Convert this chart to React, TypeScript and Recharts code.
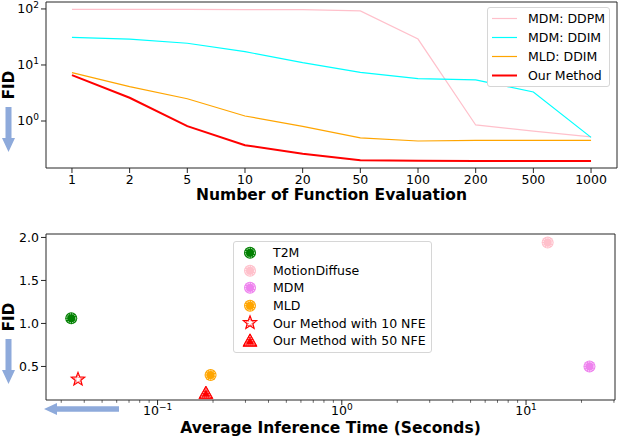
import React from "react";
import { LineChart, Line, ScatterChart, Scatter, XAxis, YAxis, Legend } from "recharts";

// top panel: FID vs number of function evaluations
const nfe = [1, 2, 5, 10, 20, 50, 100, 200, 500, 1000];
const mdmDdpm = [98, 98, 98, 97, 97, 92, 29, 0.85, 0.66, 0.52];
const mdmDdim = [31, 29, 24.4, 17.3, 11, 7.4, 5.7, 5.4, 3.3, 0.51];
const mldDdim = [7.3, 4.1, 2.5, 1.23, 0.8, 0.5, 0.44, 0.45, 0.45, 0.45];
const ourMethod = [6.6, 2.6, 0.81, 0.37, 0.26, 0.2, 0.195, 0.193, 0.193, 0.193];
const fidLogTicks = [1, 10, 100];

// bottom panel: FID vs average inference time
const methods = ["T2M", "MotionDiffuse", "MDM", "MLD", "Our Method with 10 NFE", "Our Method with 50 NFE"];
const inferTime = [0.034, 13.1, 22.1, 0.194, 0.037, 0.183];
const methodFid = [1.06, 1.94, 0.5, 0.4, 0.35, 0.19];
const fidTicks = [0.5, 1.0, 1.5, 2.0];
const timeMajor = [0.1, 1, 10];
const timeTicks = [
  0.03, 0.04, 0.05, 0.06, 0.07, 0.08, 0.09, 0.1, 0.2, 0.3, 0.4, 0.5, 0.6, 0.7, 0.8, 0.9,
  1, 2, 3, 4, 5, 6, 7, 8, 9, 10, 20, 30,
];

// axis ranges
const idxDomain = [-0.45, nfe.length - 1 + 0.45];
const fidLogDomain = [0.145, 133];
const timeDomain = [0.0248, 30.4];
const fidDomain = [0.11, 2.04];

const FONT = '"DejaVu Sans", sans-serif';
const AXIS = "#262626";
const ARROW = "#8eaadb";

const topMargin = { top: 2, right: 1, left: 0, bottom: 0 };
const botMargin = { top: 19, right: 3, left: 0, bottom: 0 };

const lineSeries = [
  { key: "ddpm", name: "MDM: DDPM", color: "#ffc0cb", width: 1.2, values: mdmDdpm },
  { key: "ddim", name: "MDM: DDIM", color: "#00ffff", width: 1.2, values: mdmDdim },
  { key: "mld", name: "MLD: DDIM", color: "#ffa500", width: 1.2, values: mldDdim },
  { key: "ours", name: "Our Method", color: "#ff0000", width: 2, values: ourMethod },
];

const lineData = nfe.map((n, i) => {
  const row: any = { idx: i, nfe: n };
  lineSeries.forEach((s) => (row[s.key] = s.values[i]));
  return row;
});

const markerKinds = ["circle", "circle", "circle", "circle", "star", "triangle"];
const markerColors = ["#008000", "#ffc0cb", "#ee82ee", "#ffa500", "#ff0000", "#ff0000"];

function Marker({ kind, color, cx, cy }: any) {
  if (kind === "star") {
    const star = (R: number, r: number) =>
      Array.from({ length: 10 }, (_, k) => {
        const a = -Math.PI / 2 + (k * Math.PI) / 5;
        const rr = k % 2 ? r : R;
        return `${cx + rr * Math.cos(a)},${cy + rr * Math.sin(a)}`;
      }).join(" ");
    return (
      <g>
        <polygon points={star(7, 3)} fill="#fff" stroke={color} strokeWidth={1.2} />
        <polygon points={star(4.2, 1.8)} fill="none" stroke={color} strokeWidth={0.7} strokeDasharray="1 1" />
      </g>
    );
  }
  if (kind === "triangle") {
    return (
      <g>
        <polygon points={`${cx},${cy - 7} ${cx - 7},${cy + 5.5} ${cx + 7},${cy + 5.5}`} fill={color} stroke={color} />
        <polygon
          points={`${cx},${cy - 4.5} ${cx - 4.8},${cy + 4} ${cx + 4.8},${cy + 4}`}
          fill="none"
          stroke="#fff"
          strokeWidth={0.8}
          strokeDasharray="1 1"
        />
      </g>
    );
  }
  return (
    <g>
      <circle cx={cx} cy={cy} r={6} fill={color} />
      <circle cx={cx} cy={cy} r={4.5} fill="none" stroke="#fff" strokeWidth={0.8} strokeDasharray="1.3 1.1" />
    </g>
  );
}

const PowTick = ({ x, y, payload }: any) => {
  const e = Math.round(Math.log10(payload.value));
  return (
    <text x={x} y={y} dy={4.3} textAnchor="end" fontSize={12.5} fill="#000" fontFamily={FONT}>
      10
      <tspan dy={-5} fontSize={9}>
        {e < 0 ? `\u2212${-e}` : e}
      </tspan>
    </text>
  );
};

const TimeTick = ({ x, y, payload }: any) => {
  const v = payload.value;
  const major = timeMajor.includes(v);
  const e = Math.round(Math.log10(v));
  return (
    <g>
      <line x1={x} x2={x} y1={y} y2={y + (major ? 5 : 2.8)} stroke={AXIS} strokeWidth={major ? 1 : 0.7} />
      {major && (
        <text x={x} y={y + 15} textAnchor="middle" fontSize={12.5} fill="#000" fontFamily={FONT}>
          10
          <tspan dy={-5} fontSize={9}>
            {e < 0 ? `\u2212${-e}` : e}
          </tspan>
        </text>
      )}
    </g>
  );
};

const FidLabel = ({ viewBox }: any) => {
  const cx = viewBox.x + 8.5;
  const cy = viewBox.y + viewBox.height / 2;
  const t = cy + 22;
  return (
    <g>
      <text
        x={cx}
        y={cy}
        transform={`rotate(-90 ${cx} ${cy})`}
        textAnchor="middle"
        dominantBaseline="central"
        fontWeight="bold"
        fontSize={15}
        fill="#000"
        fontFamily={FONT}
      >
        FID
      </text>
      <polygon
        points={`${cx - 3},${t} ${cx + 3},${t} ${cx + 3},${t + 31} ${cx + 6.5},${t + 31} ${cx},${t + 45} ${cx - 6.5},${t + 31} ${cx - 3},${t + 31}`}
        fill={ARROW}
      />
    </g>
  );
};

// x-axis title; also closes the matplotlib box (top and right spines) above the axis
const XTitle = ({ viewBox, text, gap, arrow, plotTop }: any) => {
  const ay = viewBox.y + 9;
  const ax = viewBox.x - 2;
  const right = viewBox.x + viewBox.width;
  return (
    <g>
      <line x1={viewBox.x} x2={right} y1={plotTop} y2={plotTop} stroke={AXIS} strokeWidth={1} />
      <line x1={right} x2={right} y1={plotTop} y2={viewBox.y} stroke={AXIS} strokeWidth={1} />
      <text
        x={viewBox.x + viewBox.width / 2}
        y={viewBox.y + viewBox.height - gap}
        textAnchor="middle"
        fontWeight="bold"
        fontSize={15.5}
        fill="#000"
        fontFamily={FONT}
      >
        {text}
      </text>
      {arrow && (
        <polygon
          points={`${ax},${ay} ${ax + 13},${ay - 6} ${ax + 13},${ay - 2.7} ${ax + 75},${ay - 2.7} ${ax + 75},${ay + 2.7} ${ax + 13},${ay + 2.7} ${ax + 13},${ay + 6}`}
          fill={ARROW}
        />
      )}
    </g>
  );
};

const LineLegend = () => (
  <div
    style={{
      background: "#fff",
      border: "1px solid #d6d6d6",
      borderRadius: 3,
      padding: "1px 4px 1px 4px",
      fontSize: 12.5,
      fontFamily: FONT,
      color: "#000",
    }}
  >
    {lineSeries.map((s) => (
      <div key={s.key} style={{ display: "flex", alignItems: "center", height: 19 }}>
        <svg width={25} height={19}>
          <line x1={0} x2={25} y1={9.5} y2={9.5} stroke={s.color} strokeWidth={s.width} />
        </svg>
        <span style={{ marginLeft: 11, whiteSpace: "nowrap" }}>{s.name}</span>
      </div>
    ))}
  </div>
);

const ScatterLegend = () => (
  <div
    style={{
      background: "#fff",
      border: "1px solid #d6d6d6",
      borderRadius: 3,
      padding: "2px 5px 2px 4px",
      fontSize: 12.5,
      fontFamily: FONT,
      color: "#000",
    }}
  >
    {methods.map((m, i) => (
      <div key={m} style={{ display: "flex", alignItems: "center", height: 17.6 }}>
        <svg width={24} height={17.6}>
          <Marker kind={markerKinds[i]} color={markerColors[i]} cx={12} cy={8.8} />
        </svg>
        <span style={{ marginLeft: 11, whiteSpace: "nowrap" }}>{m}</span>
      </div>
    ))}
  </div>
);

export default function App() {
  return (
    <div
      style={{
        position: "absolute",
        left: 0,
        top: 0,
        width: 618,
        height: 438,
        background: "#fff",
        fontFamily: FONT,
      }}
    >
      <LineChart width={618} height={215} data={lineData} margin={topMargin}>
        <XAxis
          dataKey="idx"
          type="number"
          domain={idxDomain}
          allowDataOverflow
          ticks={nfe.map((_, i) => i)}
          tickFormatter={(i: number) => String(nfe[i])}
          height={47}
          interval={0}
          stroke={AXIS}
          tickSize={5}
          tickMargin={2}
          tick={{ fontSize: 12.5, fill: "#000", fontFamily: FONT }}
          label={<XTitle text="Number of Function Evaluation" gap={15} plotTop={topMargin.top} />}
        />
        <YAxis
          type="number"
          scale="log"
          domain={fidLogDomain}
          allowDataOverflow
          ticks={fidLogTicks}
          width={46}
          stroke={AXIS}
          tickSize={5}
          tickMargin={2}
          tick={<PowTick />}
          label={<FidLabel />}
        />
        {lineSeries.map((s) => (
          <Line
            key={s.key}
            type="linear"
            dataKey={s.key}
            name={s.name}
            stroke={s.color}
            strokeWidth={s.width}
            dot={false}
            isAnimationActive={false}
          />
        ))}
        <Legend
          layout="vertical"
          align="center"
          verticalAlign="middle"
          wrapperStyle={{ left: 487, top: 7, width: "auto" }}
          content={<LineLegend />}
        />
      </LineChart>
      <ScatterChart width={618} height={223} margin={botMargin}>
        <XAxis
          dataKey="x"
          type="number"
          scale="log"
          domain={timeDomain}
          allowDataOverflow
          ticks={timeTicks}
          interval={0}
          height={38}
          stroke={AXIS}
          tickLine={false}
          tickSize={0}
          tickMargin={0}
          tick={<TimeTick />}
          label={<XTitle text="Average Inference Time (Seconds)" gap={5} arrow plotTop={botMargin.top} />}
        />
        <YAxis
          dataKey="y"
          type="number"
          domain={fidDomain}
          allowDataOverflow
          ticks={fidTicks}
          width={46}
          stroke={AXIS}
          tickSize={5}
          tickMargin={2}
          tickFormatter={(v: number) => v.toFixed(1)}
          tick={{ fontSize: 12.5, fill: "#000", fontFamily: FONT }}
          label={<FidLabel />}
        />
        {methods.map((m, i) => (
          <Scatter
            key={m}
            name={m}
            data={[{ x: inferTime[i], y: methodFid[i] }]}
            fill={markerColors[i]}
            isAnimationActive={false}
            shape={(p: any) => <Marker kind={markerKinds[i]} color={markerColors[i]} cx={p.cx} cy={p.cy} />}
          />
        ))}
        <Legend
          layout="vertical"
          align="center"
          verticalAlign="middle"
          wrapperStyle={{ left: 233, top: 26, width: "auto" }}
          content={<ScatterLegend />}
        />
      </ScatterChart>
    </div>
  );
}
